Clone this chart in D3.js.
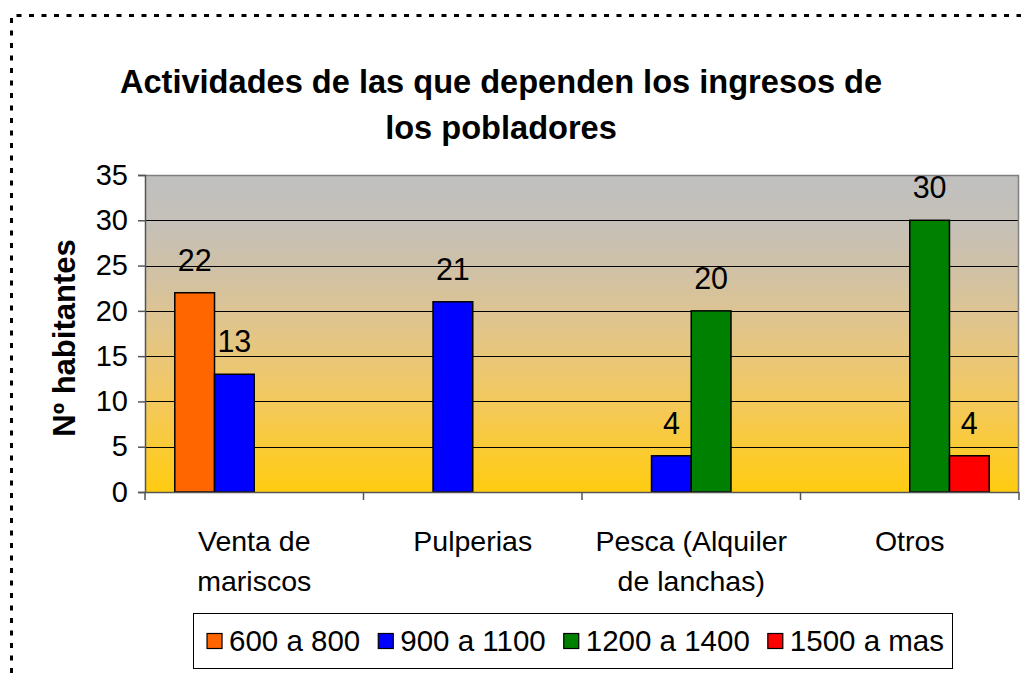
<!DOCTYPE html>
<html>
<head>
<meta charset="utf-8">
<script src="https://d3js.org/d3.v7.min.js"></script>
<style>
  html, body { margin: 0; padding: 0; background: #fff; }
  svg { display: block; font-family: "Liberation Sans", Arial, sans-serif; }
</style>
</head>
<body>
<svg id="chart" width="1021" height="673"></svg>
<script>
// ---- data ----
const categories = [["Venta de", "mariscos"], ["Pulperias"], ["Pesca (Alquiler", "de lanchas)"], ["Otros"]];
const seriesNames = ["600 a 800", "900 a 1100", "1200 a 1400", "1500 a mas"];
const seriesColors = ["#FF6600", "#0000FF", "#008000", "#FF0000"];
const s600 = [22, 0, 0, 0];
const s900 = [13, 21, 4, 0];
const s1200 = [0, 0, 20, 30];
const s1500 = [0, 0, 0, 4];
const yTicks = [0, 5, 10, 15, 20, 25, 30, 35];
const titleLines = ["Actividades de las que dependen los ingresos de", "los pobladores"];
const yLabel = "Nº habitantes";

const seriesValues = [s600, s900, s1200, s1500];

// ---- layout ----
const W = 1021, H = 673;
const plot = { left: 145, right: 1019, top: 175, bottom: 492 };
const svg = d3.select("#chart");

// dotted frame
svg.append("path")
  .attr("d", `M11.5,${H} L11.5,15.5 L${W},15.5`)
  .attr("fill", "none").attr("stroke", "#000")
  .attr("stroke-width", 3).attr("stroke-dasharray", "5,7.5");

// gradient
const defs = svg.append("defs");
const grad = defs.append("linearGradient").attr("id", "bg")
  .attr("x1", 0).attr("y1", 0).attr("x2", 0).attr("y2", 1);
[["0%", "#C0C0C0"], ["15%", "#C5C0B8"], ["30%", "#D0C1A6"], ["45%", "#DEC490"],
 ["60%", "#EBC774"], ["75%", "#F5C955"], ["90%", "#FCCB2A"], ["100%", "#FFCC11"]]
  .forEach(([o, c]) => grad.append("stop").attr("offset", o).attr("stop-color", c));

const x0 = d3.scaleBand().domain(d3.range(categories.length))
  .range([plot.left, plot.right]).paddingInner(0).paddingOuter(0);
const bw = x0.bandwidth();
const step = bw / (seriesNames.length + 1.5);
const x1 = d3.scaleBand().domain(d3.range(seriesNames.length))
  .range([0.75 * step, bw - 0.75 * step]).padding(0);
const y = d3.scaleLinear().domain([0, 35]).range([plot.bottom, plot.top]);

// plot background
svg.append("rect")
  .attr("x", plot.left).attr("y", plot.top)
  .attr("width", plot.right - plot.left).attr("height", plot.bottom - plot.top)
  .attr("fill", "url(#bg)");

// gridlines
svg.append("g").selectAll("line").data(yTicks.filter(t => t > 0 && t < 35)).join("line")
  .attr("x1", plot.left).attr("x2", plot.right)
  .attr("y1", d => Math.round(y(d)) + 0.5).attr("y2", d => Math.round(y(d)) + 0.5)
  .attr("stroke", "#000").attr("stroke-width", 1);

// plot border (top/right gray)
svg.append("path")
  .attr("d", `M${plot.left},${plot.top + 0.5} L${plot.right - 0.5},${plot.top + 0.5} L${plot.right - 0.5},${plot.bottom}`)
  .attr("fill", "none").attr("stroke", "#808080").attr("stroke-width", 1.5);

// bars
const barData = [];
seriesValues.forEach((vals, si) => vals.forEach((v, ci) => { if (v > 0) barData.push({ si, ci, v }); }));
svg.append("g").selectAll("rect").data(barData).join("rect")
  .attr("x", d => x0(d.ci) + x1(d.si))
  .attr("y", d => y(d.v))
  .attr("width", x1.bandwidth())
  .attr("height", d => y(0) - y(d.v))
  .attr("fill", d => seriesColors[d.si])
  .attr("stroke", "#000").attr("stroke-width", 1.5);

// value labels
svg.append("g").selectAll("text").data(barData).join("text")
  .attr("x", d => x0(d.ci) + x1(d.si) + x1.bandwidth() / 2)
  .attr("y", d => y(d.v) - 22)
  .attr("text-anchor", "middle")
  .attr("font-size", 30.5).attr("fill", "#000")
  .text(d => d.v);

// y axis
const yAxis = d3.axisLeft(y).tickValues(yTicks).tickSize(7).tickPadding(10);
const gy = svg.append("g").attr("transform", `translate(${plot.left},0)`).call(yAxis);
gy.select(".domain").attr("stroke", "#555").attr("stroke-width", 1.5);
gy.selectAll(".tick line").attr("stroke", "#555").attr("stroke-width", 1.5);
gy.selectAll(".tick text").attr("font-size", 29).attr("fill", "#000")
  .attr("font-family", "'Liberation Sans', Arial, sans-serif");

// x axis
const gx = svg.append("g").attr("transform", `translate(0,${plot.bottom})`);
gx.append("line").attr("x1", plot.left).attr("x2", plot.right).attr("y1", 0.5).attr("y2", 0.5)
  .attr("stroke", "#555").attr("stroke-width", 1.5);
gx.selectAll("line.tk").data(d3.range(categories.length + 1)).join("line").attr("class", "tk")
  .attr("x1", d => plot.left + d * bw).attr("x2", d => plot.left + d * bw)
  .attr("y1", 0).attr("y2", 8).attr("stroke", "#555").attr("stroke-width", 1.5);
const cl = gx.selectAll("text").data(categories).join("text")
  .attr("text-anchor", "middle").attr("font-size", 28.5).attr("fill", "#000");
cl.each(function (d, i) {
  const t = d3.select(this);
  d.forEach((line, li) => {
    t.append("tspan").attr("x", x0(i) + bw / 2).attr("y", 59 + li * 40).text(line);
  });
});

// y label
svg.append("text")
  .attr("transform", `translate(75,338) rotate(-90)`)
  .attr("text-anchor", "middle").attr("font-size", 31).attr("font-weight", "bold")
  .text(yLabel);

// title
svg.append("text").attr("text-anchor", "middle").attr("font-size", 32.6).attr("font-weight", "bold")
  .selectAll("tspan").data(titleLines).join("tspan")
  .attr("x", 501).attr("y", (d, i) => 93 + i * 46).text(d => d);

// legend
const legend = { left: 193, top: 613, right: 952, bottom: 668 };
svg.append("rect").attr("x", legend.left + 0.5).attr("y", legend.top + 0.5)
  .attr("width", legend.right - legend.left).attr("height", legend.bottom - legend.top)
  .attr("fill", "#fff").attr("stroke", "#000").attr("stroke-width", 1);
const lg = svg.append("g");
const items = lg.selectAll("g").data(seriesNames).join("g");
items.append("rect").attr("width", 15).attr("height", 15).attr("y", -17)
  .attr("fill", (d, i) => seriesColors[i]).attr("stroke", "#000").attr("stroke-width", 1.2);
items.append("text").attr("x", 22).attr("y", 0).attr("font-size", 29.5).text(d => d);
let cx = 0;
const positions = [];
items.each(function () {
  positions.push(cx);
  cx += this.getBBox().width + 18;
});
const totalW = cx - 18;
const startX = (legend.left + legend.right) / 2 + 3 - totalW / 2;
items.attr("transform", (d, i) => `translate(${startX + positions[i]},${(legend.top + legend.bottom) / 2 + 10})`);
</script>
</body>
</html>
